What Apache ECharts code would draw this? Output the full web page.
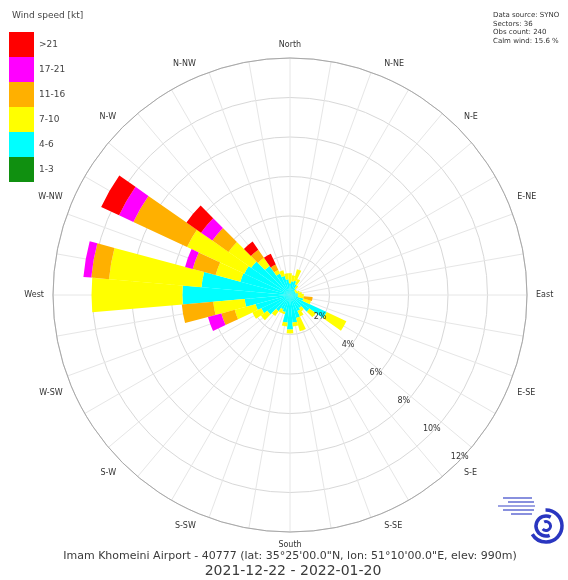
<!DOCTYPE html>
<html>
<head>
<meta charset="utf-8">
<script src="https://cdn.jsdelivr.net/npm/echarts@6/dist/echarts.min.js"></script>
<style>
  html, body { margin: 0; padding: 0; background: #fff; }
  #chart { width: 568px; height: 580px; }
</style>
</head>
<body>
<div id="chart"></div>
<script>
// Direction sectors (degrees, 10° each, clockwise from north)
const sectors = [0, 10, 20, 30, 40, 50, 60, 70, 80, 90, 100, 110, 120, 130, 140, 150, 160, 170,
                 180, 190, 200, 210, 220, 230, 240, 250, 260, 270, 280, 290, 300, 310, 320, 330, 340, 350];

// Speed classes (kt), innermost first
const speedClasses = ['1-3', '4-6', '7-10', '11-16', '17-21', '>21'];

// Frequency (%) of each speed class per sector
const freq_1_3   = [0, 0, 0.05, 0, 0, 0, 0, 0, 0, 0, 0, 0, 0.05, 0, 0, 0, 0, 0,
                    0.05, 0, 0, 0, 0, 0, 0, 0, 0, 0.05, 0, 0, 0.05, 0, 0, 0, 0, 0];
const freq_4_6   = [0.6, 0.7, 0.7, 0.6, 0.4, 0.3, 0.3, 0.3, 0.4, 0.4, 0.4, 0.7, 2.0, 1.2, 0.8, 0.9, 1.2, 1.4,
                    1.7, 1.4, 0.9, 0.8, 1.0, 1.4, 1.6, 1.8, 2.3, 5.4, 4.5, 2.6, 2.5, 2.4, 1.8, 1.2, 1.0, 0.8];
const freq_7_10  = [0.5, 0.3, 0.6, 0.3, 0.2, 0.1, 0.1, 0.2, 0.2, 0.3, 0.3, 0.4, 1.1, 0.4, 0.2, 0.3, 0.7, 0.2,
                    0.2, 0.2, 0.1, 0.2, 0.3, 0.4, 0.5, 1.1, 1.6, 4.6, 4.7, 1.3, 3.2, 1.4, 0.5, 0.2, 0.3, 0.3];
const freq_11_16 = [0, 0, 0, 0, 0, 0, 0, 0, 0, 0, 0.45, 0, 0, 0, 0, 0, 0, 0,
                    0, 0, 0, 0, 0, 0, 0, 0.7, 1.6, 0, 0.9, 1.2, 3.0, 1.0, 0.5, 0.3, 0, 0];
const freq_17_21 = [0, 0, 0, 0, 0, 0, 0, 0, 0, 0, 0, 0, 0, 0, 0, 0, 0, 0,
                    0, 0, 0, 0, 0, 0, 0, 0.7, 0, 0, 0.4, 0.4, 0.8, 0.7, 0, 0, 0, 0];
const freq_gt21  = [0, 0, 0, 0, 0, 0, 0, 0, 0, 0, 0, 0, 0, 0, 0, 0, 0, 0,
                    0, 0, 0, 0, 0, 0, 0, 0, 0, 0, 0, 0, 1.0, 0.9, 0.5, 0.6, 0, 0];

const frequencies = [freq_1_3, freq_4_6, freq_7_10, freq_11_16, freq_17_21, freq_gt21];

// Compass point labels (every 22.5°) and radial percentage ticks
const compassNames = ['North', 'N-NE', 'N-E', 'E-NE', 'East', 'E-SE', 'S-E', 'S-SE',
                      'South', 'S-SW', 'S-W', 'W-SW', 'West', 'W-NW', 'N-W', 'N-NW'];
const radiusMax = 12;
const radiusStep = 2;

const classColors = ['#109010', '#00ffff', '#ffff00', '#ffb000', '#ff00ff', '#ff0000'];

const center = [290, 295];
const radius = 237;
const fontFamily = 'DejaVu Sans, sans-serif';

const chart = echarts.init(document.getElementById('chart'), null, { renderer: 'canvas' });

const option = {
  animation: false,
  backgroundColor: '#ffffff',
  polar: [
    { center: center, radius: radius },   // wind bars
    { center: center, radius: radius },   // grid
    { center: center, radius: radius },   // compass labels
    { center: center, radius: radius }    // percentage labels
  ],
  angleAxis: [
    {
      polarIndex: 0, type: 'category', data: sectors.map(String),
      startAngle: 95, clockwise: true,
      axisLine: { show: false }, axisTick: { show: false },
      axisLabel: { show: false }, splitLine: { show: false }
    },
    {
      polarIndex: 1, type: 'value', min: 0, max: 360, interval: 10,
      startAngle: 90, clockwise: true,
      axisLine: { show: true, lineStyle: { color: '#a8a8a8', width: 1 } },
      axisTick: { show: false }, axisLabel: { show: false },
      splitLine: { show: true, lineStyle: { color: '#e6e6e6', width: 1 } }
    },
    {
      polarIndex: 2, type: 'value', min: 0, max: 360, interval: 22.5,
      startAngle: 90, clockwise: true,
      axisLine: { show: false }, axisTick: { show: false }, splitLine: { show: false },
      axisLabel: {
        show: true, margin: 9, showMaxLabel: false,
        fontFamily: fontFamily, fontSize: 8, color: '#333',
        formatter: v => compassNames[Math.round(v / 22.5) % 16]
      }
    },
    {
      polarIndex: 3, type: 'value', min: 0, max: 360,
      startAngle: -45, clockwise: true,
      axisLine: { show: false }, axisTick: { show: false },
      axisLabel: { show: false }, splitLine: { show: false }
    }
  ],
  radiusAxis: [
    {
      polarIndex: 0, type: 'value', min: 0, max: radiusMax,
      axisLine: { show: false }, axisTick: { show: false },
      axisLabel: { show: false }, splitLine: { show: false }
    },
    {
      polarIndex: 1, type: 'value', min: 0, max: radiusMax, interval: radiusStep,
      axisLine: { show: false }, axisTick: { show: false }, axisLabel: { show: false },
      splitLine: { show: true, lineStyle: { color: '#d8d8d8', width: 1 } }
    },
    {
      polarIndex: 2, type: 'value', min: 0, max: radiusMax,
      axisLine: { show: false }, axisTick: { show: false },
      axisLabel: { show: false }, splitLine: { show: false }
    },
    {
      polarIndex: 3, type: 'value', min: 0, max: radiusMax, interval: radiusStep, z: 10,
      axisLine: { show: false }, axisTick: { show: false }, splitLine: { show: false },
      axisLabel: {
        show: true, margin: 3, showMinLabel: false,
        align: 'center', verticalAlign: 'bottom',
        fontFamily: fontFamily, fontSize: 8, color: '#333',
        formatter: v => v + '%'
      }
    }
  ],
  legend: {
    orient: 'vertical', left: 4, top: 27,
    itemWidth: 25, itemHeight: 25, itemGap: 0, icon: 'rect',
    selectedMode: false,
    data: speedClasses.slice().reverse(),
    textStyle: { fontFamily: fontFamily, fontSize: 9, color: '#444' }
  },
  series: speedClasses.map((name, i) => ({
    type: 'bar', name: name, coordinateSystem: 'polar', polarIndex: 0,
    stack: 'wind', data: frequencies[i], barCategoryGap: '0%',
    itemStyle: { color: classColors[i] }, z: 2
  })),
  graphic: [
    { type: 'text', left: 12, top: 11, style: { text: 'Wind speed [kt]', font: '9px ' + fontFamily, fill: '#444' } },
    {
      type: 'text', left: 493, top: 11,
      style: {
        text: 'Data source: SYNO\nSectors: 36\nObs count: 240\nCalm wind: 15.6 %',
        font: '7px ' + fontFamily, fill: '#333', lineHeight: 8.5
      }
    },
    {
      type: 'text', x: 290, y: 556,
      style: {
        text: 'Imam Khomeini Airport - 40777 (lat: 35°25\'00.0"N, lon: 51°10\'00.0"E, elev: 990m)',
        font: '11px ' + fontFamily, fill: '#3a3a3a', align: 'center', verticalAlign: 'middle'
      }
    },
    {
      type: 'text', x: 293, y: 571,
      style: {
        text: '2021-12-22 - 2022-01-20',
        font: '14px ' + fontFamily, fill: '#3a3a3a', align: 'center', verticalAlign: 'middle'
      }
    },
    // station logo
    {
      type: 'group', x: 0, y: 0,
      children: [
        { type: 'line', shape: { x1: 503, y1: 498, x2: 532, y2: 498 }, style: { stroke: '#3a46c8', lineWidth: 1.2 } },
        { type: 'line', shape: { x1: 508, y1: 502, x2: 534, y2: 502 }, style: { stroke: '#3a46c8', lineWidth: 1.2 } },
        { type: 'line', shape: { x1: 498, y1: 506, x2: 535, y2: 506 }, style: { stroke: '#3a46c8', lineWidth: 1.2 } },
        { type: 'line', shape: { x1: 503, y1: 510, x2: 534, y2: 510 }, style: { stroke: '#3a46c8', lineWidth: 1.2 } },
        { type: 'line', shape: { x1: 511, y1: 514, x2: 532, y2: 514 }, style: { stroke: '#3a46c8', lineWidth: 1.2 } },
        { type: 'arc', shape: { cx: 546, cy: 526, r: 16, startAngle: -1.6, endAngle: 2.6 }, style: { stroke: '#2a36c0', lineWidth: 3.5, fill: null } },
        { type: 'arc', shape: { cx: 546, cy: 526, r: 10, startAngle: 1.2, endAngle: 5.2 }, style: { stroke: '#2a36c0', lineWidth: 3.5, fill: null } },
        { type: 'arc', shape: { cx: 546, cy: 526, r: 4.5, startAngle: -2.0, endAngle: 2.4 }, style: { stroke: '#2a36c0', lineWidth: 3, fill: null } }
      ]
    }
  ]
};

chart.setOption(option);
</script>
</body>
</html>
